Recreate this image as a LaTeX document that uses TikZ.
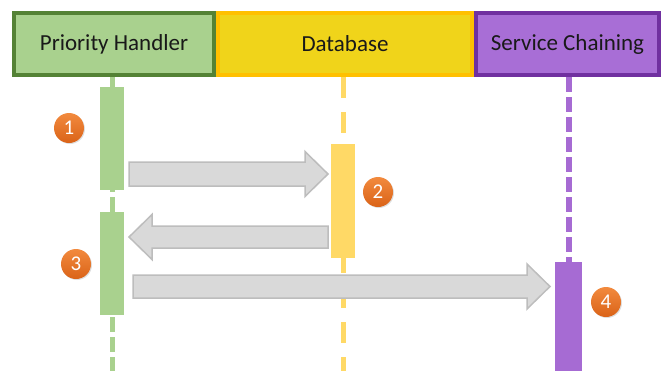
\documentclass[tikz,border=0pt]{standalone}
\usepackage{fontspec}
\setmainfont{Carlito}
\usetikzlibrary{calc,shadows}

\definecolor{phFill}{HTML}{A9D18E}
\definecolor{phLine}{HTML}{548235}
\definecolor{dbFill}{HTML}{F0D41A}
\definecolor{dbLine}{HTML}{FFC000}
\definecolor{dbBar}{HTML}{FFD966}
\definecolor{scFill}{HTML}{A86ED6}
\definecolor{scLine}{HTML}{7030A0}
\definecolor{scBar}{HTML}{A66BD3}
\definecolor{arrFill}{HTML}{D9D9D9}
\definecolor{arrLine}{HTML}{BDBDBD}
\definecolor{stepTop}{HTML}{F28A3E}
\definecolor{stepBot}{HTML}{DA6318}

% horizontal block arrow: from, to, half body width, half head width, signed head length
\newcommand\blockarrow[5]{%
  \filldraw[blockarr] let \p1=(#1), \p2=(#2), \n1={\x2-(#5)} in
    (\x1,{\y1+#3}) -- (\n1,{\y1+#3}) -- (\n1,{\y1+#4}) -- (\x2,\y2)
    -- (\n1,{\y1-#4}) -- (\n1,{\y1-#3}) -- (\x1,{\y1-#3}) -- cycle;}

\begin{document}
\begin{tikzpicture}[x=1pt,y=-1pt,
  header/.style={draw, line width=4pt, minimum height=62pt, inner sep=0pt,
    text=black!90, font=\fontsize{23}{27}\selectfont},
  actbar/.style={draw=none, inner sep=0pt, outer sep=0pt},
  life/.style={line width=5pt, dash pattern=on 15pt off 5pt},
  blockarr/.style={fill=arrFill, draw=arrLine, line width=1.5pt, line join=miter},
  stepnum/.style={circle, minimum size=30pt, inner sep=0pt, top color=stepTop,
    bottom color=stepBot, text=white, font=\fontsize{21}{21}\selectfont,
    drop shadow={opacity=0.25, shadow xshift=1pt, shadow yshift=-1pt}}]
\useasboundingbox (0,0) rectangle (663,370);

% activation bars (positions only; filled after the lifelines)
\node[actbar, minimum width=24pt, minimum height=103pt] (bar1) at (112,138.5) {};
\node[actbar, minimum width=24pt, minimum height=103pt] (bar2) at (112,263.5) {};
\node[actbar, minimum width=24pt, minimum height=114pt] (bar3) at (343,201) {};
\node[actbar, minimum width=27pt, minimum height=110pt] (bar4) at (568.5,317) {};

% participants
\node[header, fill=phFill, draw=phLine, minimum width=200pt] (ph) at (114,44) {Priority Handler};
\node[header, fill=dbFill, draw=dbLine, minimum width=254pt] (db) at (345,44) {Database};
\node[header, fill=scFill, draw=scLine, minimum width=183pt] (sc) at (567.5,44) {Service Chaining};

% lifelines
\coordinate (bottom) at (0,380);
\draw[life, phFill] (bar1 |- ph.south) -- (bar1 |- bottom);
\draw[line width=5pt, dbBar, dash pattern=on 21pt off 14pt] (bar3 |- db.south) -- (bar3 |- bottom);
\draw[life, line width=6pt, scBar] (bar4 |- sc.south) -- (bar4 |- bottom);

% bars above the lifelines
\fill[phFill] (bar1.south west) rectangle (bar1.north east);
\fill[phFill] (bar2.south west) rectangle (bar2.north east);
\fill[dbBar] (bar3.south west) rectangle (bar3.north east);
\fill[scBar] (bar4.south west) rectangle (bar4.north east);

% messages
\coordinate (m1s) at (129,174);   \coordinate (m1e) at (328,174);
\coordinate (m2s) at (328,237);   \coordinate (m2e) at (129,237);
\coordinate (m3s) at (133,286.5); \coordinate (m3e) at (550,286.5);
\blockarrow{m1s}{m1e}{12pt}{22.5pt}{23pt}
\blockarrow{m2s}{m2e}{11pt}{22.5pt}{-23pt}
\blockarrow{m3s}{m3e}{11.5pt}{22.5pt}{23pt}

% step numbers
\node[stepnum] (s1) at (69,128) {1};
\node[stepnum] (s2) at (378,192) {2};
\node[stepnum] (s3) at (76,264) {3};
\node[stepnum] (s4) at (606,302) {4};
\end{tikzpicture}
\end{document}
